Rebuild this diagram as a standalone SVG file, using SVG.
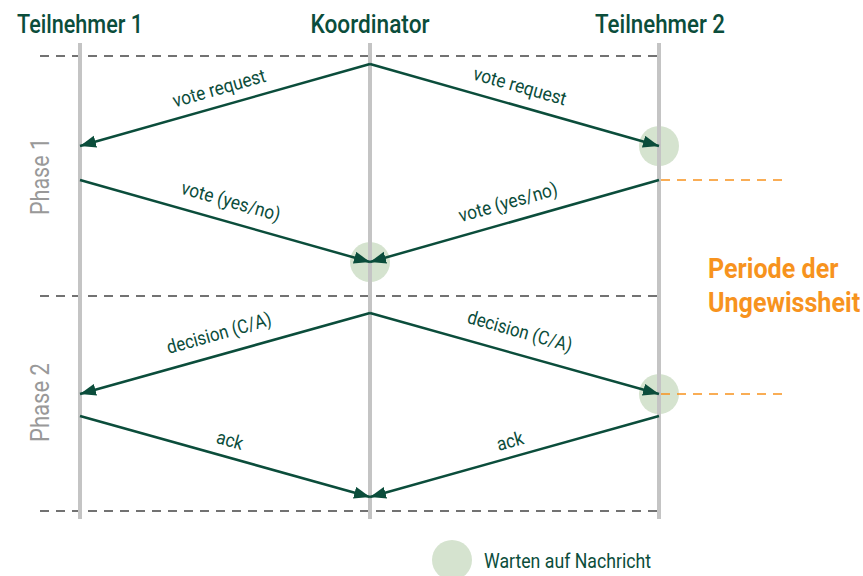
<svg xmlns="http://www.w3.org/2000/svg" width="863" height="576" viewBox="0 0 863 576">
  <style>
    .title { font-family: Roboto, "Liberation Sans", sans-serif; font-size: 26px; font-weight: 500; fill: #0b4d3b; text-anchor: middle; }
    .label { font-family: Roboto, "Liberation Sans", sans-serif; font-size: 19px; fill: #0b4d3b; text-anchor: middle; }
    .phase { font-family: Roboto, "Liberation Sans", sans-serif; font-size: 26px; font-weight: 400; fill: #999999; text-anchor: middle; }
    .uncertain { font-family: Roboto, "Liberation Sans", sans-serif; font-size: 27px; font-weight: 700; fill: #f7931e; }
    .legend { font-family: Roboto, "Liberation Sans", sans-serif; font-size: 20px; fill: #0b4d3b; }
    .lifeline { stroke: #c4c4c4; stroke-width: 4; fill: none; }
    .sep { stroke: #444; stroke-width: 1.5; stroke-dasharray: 9 7; fill: none; }
    .orange { stroke: #f7931e; stroke-width: 1.5; stroke-dasharray: 9 7; fill: none; }
    .msg { stroke: #0b4d3b; stroke-width: 2.5; fill: none; marker-end: url(#arrow); }
    .wait { fill: #d5e3cf; }
  </style>
  <defs>
    <marker id="arrow" markerUnits="userSpaceOnUse" markerWidth="18" markerHeight="14" refX="16" refY="6" orient="auto">
      <path d="M0,0 L16,6 L0,12 Z" fill="#0b4d3b"/>
    </marker>
  </defs>

  <!-- phase separators -->
  <g id="separators">
    <line class="sep" x1="40" y1="56" x2="659" y2="56"/>
    <line class="sep" x1="40" y1="296" x2="659" y2="296"/>
    <line class="sep" x1="40" y1="511" x2="659" y2="511"/>
  </g>

  <!-- waiting markers -->
  <g id="waits">
    <circle class="wait" cx="659" cy="146" r="20"/>
    <circle class="wait" cx="370" cy="262" r="20"/>
    <circle class="wait" cx="659" cy="394" r="20"/>
  </g>

  <!-- participants -->
  <g id="teilnehmer1">
    <text class="title" x="80" y="33" textLength="126" lengthAdjust="spacingAndGlyphs">Teilnehmer 1</text>
    <line class="lifeline" x1="80" y1="43" x2="80" y2="519"/>
  </g>
  <g id="koordinator">
    <text class="title" x="370" y="33" textLength="119" lengthAdjust="spacingAndGlyphs">Koordinator</text>
    <line class="lifeline" x1="370" y1="43" x2="370" y2="519"/>
  </g>
  <g id="teilnehmer2">
    <text class="title" x="660" y="33" textLength="130" lengthAdjust="spacingAndGlyphs">Teilnehmer 2</text>
    <line class="lifeline" x1="659" y1="43" x2="659" y2="519"/>
  </g>

  <!-- period of uncertainty -->
  <g id="ungewissheit">
    <line class="orange" x1="661" y1="180" x2="783" y2="180"/>
    <line class="orange" x1="661" y1="394" x2="783" y2="394"/>
    <text class="uncertain" transform="translate(708,278) scale(0.93,1)">Periode der</text>
    <text class="uncertain" transform="translate(708,312) scale(0.93,1)">Ungewissheit</text>
  </g>

  <!-- phase labels -->
  <g id="phases">
    <text class="phase" transform="translate(40,176.5) rotate(-90)" dy="0.35em" textLength="77" lengthAdjust="spacingAndGlyphs">Phase 1</text>
    <text class="phase" transform="translate(40,402.5) rotate(-90)" dy="0.35em" textLength="79" lengthAdjust="spacingAndGlyphs">Phase 2</text>
  </g>

  <!-- messages -->
  <g id="connectors">
    <line class="msg" x1="370" y1="64" x2="80" y2="146"/>
    <line class="msg" x1="370" y1="64" x2="659" y2="146"/>
    <line class="msg" x1="80" y1="180" x2="370" y2="262"/>
    <line class="msg" x1="659" y1="180" x2="370" y2="262"/>
    <line class="msg" x1="370" y1="313" x2="80" y2="394"/>
    <line class="msg" x1="370" y1="313" x2="659" y2="394"/>
    <line class="msg" x1="80" y1="416" x2="370" y2="497"/>
    <line class="msg" x1="659" y1="416" x2="370" y2="497"/>

    <text class="label" transform="translate(219,88) rotate(-15.8)" dy="0.35em" textLength="96" lengthAdjust="spacingAndGlyphs">vote request</text>
    <text class="label" transform="translate(520,86) rotate(15.8)" dy="0.35em" textLength="96" lengthAdjust="spacingAndGlyphs">vote request</text>
    <text class="label" transform="translate(231,201) rotate(15.8)" dy="0.35em" textLength="102" lengthAdjust="spacingAndGlyphs">vote (yes/no)</text>
    <text class="label" transform="translate(508,202) rotate(-15.8)" dy="0.35em" textLength="102" lengthAdjust="spacingAndGlyphs">vote (yes/no)</text>
    <text class="label" transform="translate(219,333) rotate(-15.8)" dy="0.35em" textLength="108" lengthAdjust="spacingAndGlyphs">decision (C/A)</text>
    <text class="label" transform="translate(520,331) rotate(15.8)" dy="0.35em" textLength="108" lengthAdjust="spacingAndGlyphs">decision (C/A)</text>
    <text class="label" transform="translate(230,440) rotate(15.8)" dy="0.35em" textLength="27" lengthAdjust="spacingAndGlyphs">ack</text>
    <text class="label" transform="translate(510,441) rotate(-15.8)" dy="0.35em" textLength="27" lengthAdjust="spacingAndGlyphs">ack</text>
  </g>

  <!-- legend -->
  <g id="legend">
    <circle class="wait" cx="452" cy="560" r="20"/>
    <text class="legend" x="484" y="568" textLength="167" lengthAdjust="spacingAndGlyphs">Warten auf Nachricht</text>
  </g>
</svg>
